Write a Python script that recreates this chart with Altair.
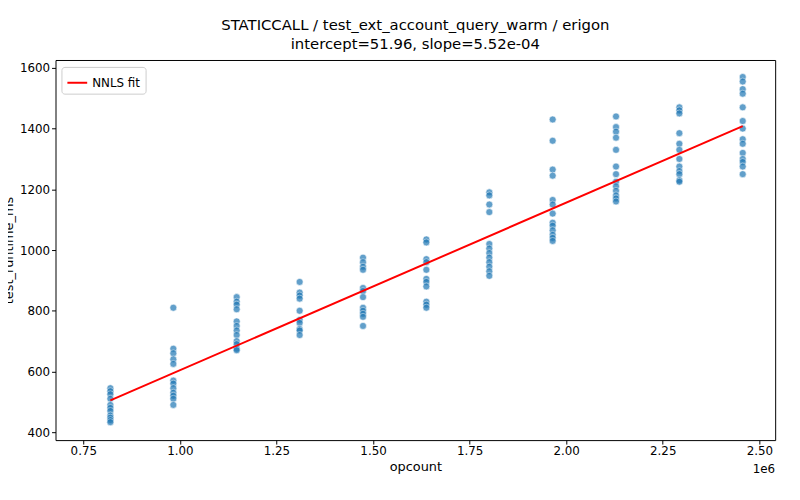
import altair as alt
import pandas as pd

opcounts = [0.820, 0.983, 1.147, 1.310, 1.474, 1.638, 1.801, 1.965, 2.129, 2.293, 2.457]
runtimes = [
    [545, 535, 525, 510, 490, 480, 470, 455, 448, 440, 433],
    [810, 675, 660, 640, 625, 570, 560, 545, 530, 520, 510, 490],
    [845, 830, 820, 805, 765, 750, 735, 720, 700, 690, 675, 670],
    [895, 860, 850, 840, 800, 770, 760, 740, 735, 720],
    [975, 960, 945, 935, 875, 865, 845, 810, 800, 790, 780, 750],
    [1035, 1025, 970, 960, 935, 905, 895, 880, 830, 820, 810],
    [1190, 1180, 1150, 1125, 1020, 1005, 990, 975, 960, 945, 930, 915],
    [1430, 1360, 1265, 1245, 1165, 1150, 1120, 1090, 1080, 1065, 1050, 1040, 1030],
    [1440, 1405, 1390, 1370, 1330, 1275, 1250, 1225, 1210, 1195, 1180, 1170, 1160],
    [1470, 1460, 1450, 1385, 1350, 1330, 1300, 1275, 1260, 1250, 1230, 1225],
    [1570, 1555, 1530, 1515, 1470, 1425, 1400, 1365, 1350, 1320, 1300, 1290, 1275, 1250],
]
intercept = 51.96
slope = 5.52e-4

points = pd.DataFrame(
    [{"opcount": x, "test_runtime_ms": y} for x, ys in zip(opcounts, runtimes) for y in ys]
)
fit = pd.DataFrame({
    "opcount": [opcounts[0], opcounts[-1]],
    "test_runtime_ms": [intercept + slope * opcounts[0] * 1e6, intercept + slope * opcounts[-1] * 1e6],
    "series": ["NNLS fit", "NNLS fit"],
})

xs = alt.Scale(domain=[0.678, 2.541], nice=False, zero=False)
ys = alt.Scale(domain=[374, 1626], nice=False, zero=False)
xaxis = alt.Axis(values=[0.75, 1.0, 1.25, 1.5, 1.75, 2.0, 2.25, 2.5], format=".2f", title="opcount")
yaxis = alt.Axis(values=[400, 600, 800, 1000, 1200, 1400, 1600], format="d", title="test_runtime_ms")

scatter = alt.Chart(points).mark_circle(
    size=50, color="#1f77b4", opacity=0.7, stroke="white", strokeWidth=0.6
).encode(
    x=alt.X("opcount:Q", scale=xs, axis=xaxis),
    y=alt.Y("test_runtime_ms:Q", scale=ys, axis=yaxis),
)

line = alt.Chart(fit).mark_line(strokeWidth=2).encode(
    x=alt.X("opcount:Q", scale=xs),
    y=alt.Y("test_runtime_ms:Q", scale=ys),
    color=alt.Color("series:N", scale=alt.Scale(range=["red"]), legend=alt.Legend(
        title=None, orient="none", legendX=6, legendY=7, symbolType="stroke",
        symbolStrokeWidth=2, symbolSize=400, labelFontSize=12, fillColor="white",
        strokeColor="#cccccc", padding=5, cornerRadius=3,
    )),
)

sci = alt.Chart(pd.DataFrame({"t": ["1e6"]})).mark_text(
    align="right", baseline="top", fontSize=12, dy=24
).encode(x=alt.value(727), y=alt.value(384), text="t:N")

chart = alt.layer(scatter, line, sci).properties(
    width=727, height=384,
    autosize=alt.AutoSizeParams(type="none"),
    padding={"left": 48, "top": 50, "right": 17, "bottom": 60},
    title=alt.Title(
        ["STATICCALL / test_ext_account_query_warm / erigon", "intercept=51.96, slope=5.52e-04"],
        fontSize=15, fontWeight="normal", offset=8, lineHeight=19,
    ),
).configure_view(stroke="black", strokeWidth=1).configure_axis(
    grid=False, domain=False, labelFontSize=12, titleFontSize=13, titleFontWeight="normal",
    labelColor="black", titleColor="black", tickColor="black", tickSize=4,
    labelFont="DejaVu Sans", titleFont="DejaVu Sans",
).configure_title(font="DejaVu Sans").configure_legend(labelFont="DejaVu Sans").configure_text(font="DejaVu Sans")

chart.save("out.html", embed_options={"renderer": "svg", "actions": False})
